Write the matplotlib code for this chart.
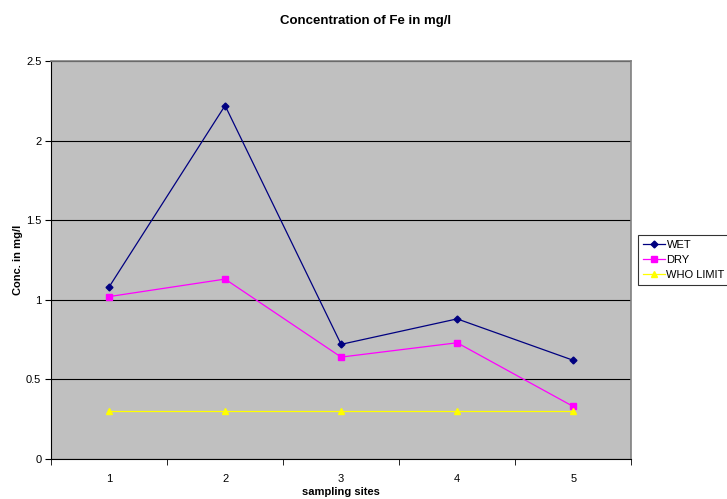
import numpy as np
import matplotlib
matplotlib.use('Agg')
import matplotlib.pyplot as plt

plt.rcParams['font.family'] = ['Liberation Sans', 'DejaVu Sans']

sites = [1, 2, 3, 4, 5]
wet = [1.08, 2.22, 0.72, 0.88, 0.62]
dry = [1.02, 1.13, 0.64, 0.73, 0.33]
who_limit = [0.3, 0.3, 0.3, 0.3, 0.3]

fig = plt.figure(figsize=(7.27, 4.99), dpi=100)
ax = fig.add_axes([0.0702, 0.0802, 0.798, 0.7976])
ax.set_facecolor('#c0c0c0')

ax.plot(sites, wet, color='#000080', marker='D', markersize=3.5, lw=0.9, label='WET')
ax.plot(sites, dry, color='#ff00ff', marker='s', markersize=4.5, lw=0.9, label='DRY')
ax.plot(sites, who_limit, color='#ffff00', marker='^', markersize=5, lw=0.9, label='WHO LIMIT')

ax.set_xlim(0.5, 5.5)
ax.set_ylim(0, 2.5)
ax.set_yticks([0, 0.5, 1, 1.5, 2, 2.5])
ax.set_yticklabels(['0', '0.5', '1', '1.5', '2', '2.5'])
ax.set_xticks(sites)
ax.set_xticks(np.arange(0.5, 6, 1), minor=True)
ax.tick_params(axis='x', which='major', length=0, labelsize=8, pad=11)
ax.tick_params(axis='x', which='minor', length=4, direction='out')
ax.tick_params(axis='y', length=4, direction='out', labelsize=8, pad=3)
ax.grid(axis='y', color='black', lw=0.8)
ax.set_axisbelow(True)
for s in ['top', 'right']:
    ax.spines[s].set_color('#808080')
    ax.spines[s].set_linewidth(1.2)
for s in ['left', 'bottom']:
    ax.spines[s].set_color('black')
    ax.spines[s].set_linewidth(0.8)

fig.text(0.503, 1 - 21 / 499, 'Concentration of Fe in mg/l', fontsize=9.5,
         fontweight='bold', ha='center', va='center')
ax.set_xlabel('sampling sites', fontsize=8, fontweight='bold', labelpad=2)
ax.set_ylabel('Conc. in mg/l', fontsize=8, fontweight='bold', labelpad=2)

leg = ax.legend(loc='center left', bbox_to_anchor=(1.012, 0.50), fontsize=8,
                frameon=True, fancybox=False, edgecolor='black', handlelength=2.0,
                borderpad=0.45, labelspacing=0.45, handletextpad=0.1, borderaxespad=0)
leg.get_frame().set_linewidth(0.8)

fig.savefig('out.png', dpi=100)
